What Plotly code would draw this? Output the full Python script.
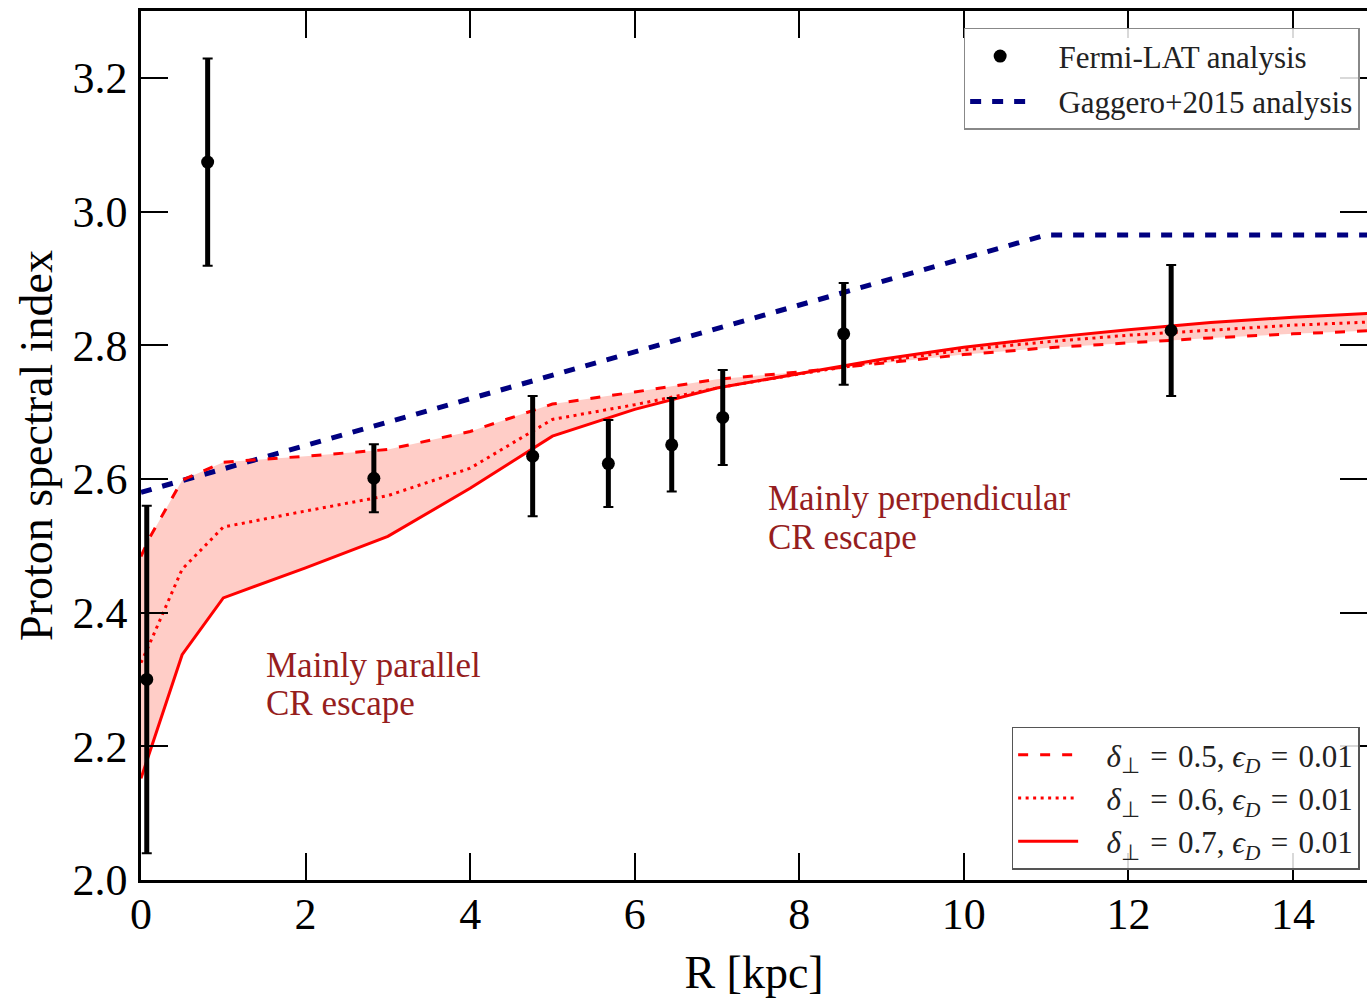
import plotly.graph_objects as go

# ---------------- data ----------------
R_model = [0, 0.1, 0.5, 1, 2, 3, 4, 5, 6, 7, 8, 9, 10, 11, 12, 13, 14, 15]
delta05 = [2.484, 2.511, 2.598, 2.625, 2.634, 2.644, 2.671, 2.712, 2.730, 2.749,
           2.760, 2.773, 2.786, 2.796, 2.804, 2.811, 2.817, 2.822]
delta06 = [2.325, 2.352, 2.465, 2.528, 2.552, 2.575, 2.616, 2.689, 2.711, 2.736,
           2.757, 2.776, 2.793, 2.805, 2.815, 2.823, 2.830, 2.835]
delta07 = [2.152, 2.189, 2.337, 2.422, 2.467, 2.514, 2.586, 2.664, 2.704, 2.736,
           2.758, 2.779, 2.797, 2.811, 2.823, 2.834, 2.842, 2.848]

R_gaggero = [0, 11, 15]
gaggero = [2.580, 2.965, 2.965]

R_fermi = [0.07, 0.81, 2.83, 4.76, 5.68, 6.45, 7.07, 8.54, 12.52]
fermi = [2.300, 3.074, 2.601, 2.634, 2.623, 2.651, 2.692, 2.817, 2.822]
fermi_err = [0.26, 0.155, 0.051, 0.090, 0.065, 0.070, 0.071, 0.076, 0.098]

x_ticks = [0, 2, 4, 6, 8, 10, 12, 14]
y_ticks = [2.0, 2.2, 2.4, 2.6, 2.8, 3.0, 3.2]

FONT = "Liberation Serif"
TXT_RED = "#961e1e"
SP = "\u2004"
GAP = "\u00a0\u00a0\u00a0"

fig = go.Figure()

# band between delta=0.5 and delta=0.7
fig.add_trace(go.Scatter(x=R_model, y=delta05, mode="lines", line=dict(width=0),
                         showlegend=False, hoverinfo="skip"))
fig.add_trace(go.Scatter(x=R_model, y=delta07, mode="lines", line=dict(width=0),
                         fill="tonexty", fillcolor="#ffcdc7",
                         showlegend=False, hoverinfo="skip"))

# Gaggero+2015
fig.add_trace(go.Scatter(x=R_gaggero, y=gaggero, mode="lines",
                         line=dict(color="#000080", width=5, dash="11px,11px"),
                         name=GAP + "Gaggero+2015 analysis", legend="legend",
                         legendgroup="g2", legendrank=2))

# model lines
def mname(d):
    return (GAP + f"<i>δ</i><sub>⊥</sub>{SP}={SP}{d}, "
            f"<i>ϵ<sub>D</sub></i>{SP}={SP}0.01")

fig.add_trace(go.Scatter(x=R_model, y=delta05, mode="lines",
                         line=dict(color="red", width=3, dash="10px,12px"),
                         name=mname("0.5"),
                         legend="legend2", legendgroup="m1", legendrank=1))
fig.add_trace(go.Scatter(x=R_model, y=delta06, mode="lines",
                         line=dict(color="red", width=3, dash="3px,4.5px"),
                         name=mname("0.6"),
                         legend="legend2", legendgroup="m2", legendrank=2))
fig.add_trace(go.Scatter(x=R_model, y=delta07, mode="lines",
                         line=dict(color="red", width=3),
                         name=mname("0.7"),
                         legend="legend2", legendgroup="m3", legendrank=3))

# Fermi-LAT data: thin caps + thick bars
fig.add_trace(go.Scatter(x=R_fermi, y=fermi, mode="markers",
                         marker=dict(size=1, color="rgba(0,0,0,0)"),
                         error_y=dict(type="data", array=fermi_err, visible=True,
                                      color="black", thickness=2, width=5),
                         showlegend=False, hoverinfo="skip"))
fig.add_trace(go.Scatter(x=R_fermi, y=fermi, mode="markers",
                         marker=dict(size=13, color="black"),
                         error_y=dict(type="data", array=fermi_err, visible=True,
                                      color="black", thickness=5, width=0),
                         name=GAP + "Fermi-LAT analysis", legend="legend",
                         legendgroup="g1", legendrank=1))

# dummy trace for right-hand ticks
fig.add_trace(go.Scatter(x=[None], y=[None], yaxis="y2", showlegend=False,
                         hoverinfo="skip"))

# annotations
def note(x, y, text):
    fig.add_annotation(x=x, y=y, xref="x", yref="y", text=text, showarrow=False,
                       xanchor="left", yanchor="middle",
                       font=dict(family=FONT, size=35, color=TXT_RED))

note(1.5, 2.3215, "Mainly parallel")
note(1.5, 2.2635, "CR escape")
note(7.6, 2.571, "Mainly perpendicular")
note(7.6, 2.513, "CR escape")

axis_common = dict(ticks="inside", ticklen=27, tickwidth=2, tickcolor="black",
                   showgrid=False, zeroline=False,
                   tickfont=dict(family=FONT, size=44, color="black"))

fig.update_layout(
    width=1367, height=998,
    margin=dict(l=141, r=0, t=11, b=113),
    paper_bgcolor="white", plot_bgcolor="white",
    font=dict(family=FONT, color="black"),
    xaxis=dict(range=[0, 14.9], tickvals=x_ticks, ticktext=[str(v) for v in x_ticks],
               showline=True, linewidth=2.5, linecolor="black", mirror="ticks",
               ticklabelstandoff=-7,
               title=dict(text="R [kpc]", font=dict(family=FONT, size=46), standoff=27),
               **axis_common),
    yaxis=dict(range=[2.0, 3.3], tickvals=y_ticks, ticktext=[f"{v:.1f}" for v in y_ticks],
               showline=True, linewidth=2.5, linecolor="black",
               ticklabelstandoff=2,
               title=dict(text="Proton spectral index", font=dict(family=FONT, size=46),
                          standoff=6),
               **axis_common),
    yaxis2=dict(range=[2.0, 3.3], tickvals=y_ticks, overlaying="y", side="right",
                showticklabels=False, showline=False, ticks="inside", ticklen=27,
                tickwidth=2, tickcolor="black", showgrid=False, zeroline=False),
    legend=dict(x=0.994, y=0.9805, xanchor="right", yanchor="top",
                bgcolor="rgba(255,255,255,0.85)", bordercolor="#888888", borderwidth=1.5,
                font=dict(family=FONT, size=31, color="#222222"),
                itemwidth=60, tracegroupgap=2, traceorder="grouped"),
    legend2=dict(x=0.994, y=0.012, xanchor="right", yanchor="bottom",
                 bgcolor="rgba(255,255,255,0.85)", bordercolor="#555555", borderwidth=1.5,
                 font=dict(family=FONT, size=31, color="#222222"),
                 itemwidth=60, tracegroupgap=0, traceorder="grouped"),
    showlegend=True,
)

fig.write_html("out.html")
